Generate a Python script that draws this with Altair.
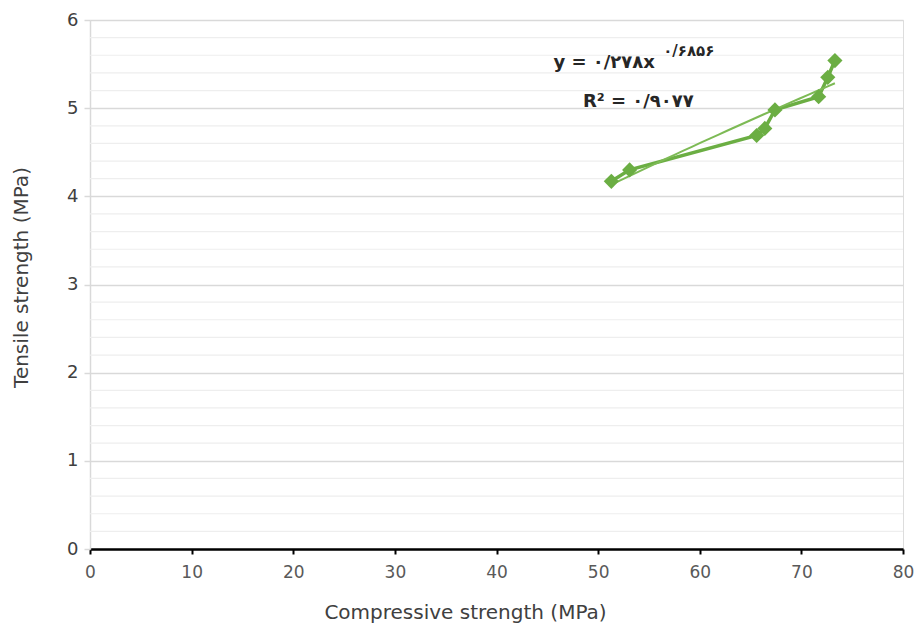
import altair as alt
import pandas as pd

# Data
comp_strength = [51.3, 53.1, 65.6, 66.4, 67.4, 71.7, 72.6, 73.3]
tens_strength = [4.17, 4.30, 4.69, 4.77, 4.98, 5.13, 5.35, 5.54]

x_ticks = [0, 10, 20, 30, 40, 50, 60, 70, 80]
y_ticks = [0, 1, 2, 3, 4, 5, 6]
minor_y = [0.2, 0.4, 0.6, 0.8, 1.2, 1.4, 1.6, 1.8, 2.2, 2.4, 2.6, 2.8,
           3.2, 3.4, 3.6, 3.8, 4.2, 4.4, 4.6, 4.8, 5.2, 5.4, 5.6, 5.8]

# Trendline annotation (Persian digits as in the original)
ann_text = ["y = ۰/۲۷۸x", "۰/۶۸۵۶", "R² = ۰/۹۰۷۷"]
ann_x = [45.6, 56.4, 48.5]
ann_y = [5.51, 5.65, 5.07]
ann_size = [18, 15, 18]

GREEN = "#6BAE43"
FONT = "DejaVu Sans"

df = pd.DataFrame({"x": comp_strength, "y": tens_strength, "i": range(len(comp_strength))})
minor_df = pd.DataFrame({"y": minor_y})
ann_df = pd.DataFrame({"t": ann_text, "x": ann_x, "y": ann_y, "s": ann_size})

xscale = alt.Scale(domain=[0, 80], nice=False, zero=True)
yscale = alt.Scale(domain=[0, 6], nice=False, zero=True)

xaxis = alt.Axis(values=x_ticks, grid=False, domainColor="black", domainWidth=2.5,
                 tickColor="black", tickWidth=2, tickSize=5, labelFlush=False,
                 labelFont=FONT, labelFontSize=17, labelColor="#595959", labelPadding=10,
                 title="Compressive strength (MPa)", titleFont=FONT, titleFontSize=20,
                 titleFontWeight="normal", titleColor="#404040",
                 titleX=375, titleY=63, titleBaseline="middle")
yaxis = alt.Axis(values=y_ticks, grid=True, gridColor="#d9d9d9", gridWidth=1.5,
                 domainColor="#d9d9d9", domainWidth=1.5, labelFlush=False,
                 tickColor="#d9d9d9", tickWidth=1.5, tickSize=6,
                 labelFont=FONT, labelFontSize=18, labelColor="#404040", labelPadding=6,
                 title="Tensile strength (MPa)", titleFont=FONT, titleFontSize=20,
                 titleFontWeight="normal", titleColor="#404040",
                 titleX=-69, titleY=257, titleBaseline="middle", titleAngle=-90)

X = alt.X("x:Q", scale=xscale, axis=xaxis)
Y = alt.Y("y:Q", scale=yscale, axis=yaxis)

minor = alt.Chart(minor_df).mark_rule(color="#eeeeee", strokeWidth=1.2).encode(y=Y)

line = alt.Chart(df).mark_line(color=GREEN, strokeWidth=3.5).encode(x=X, y=Y, order="i:Q")

trend = alt.Chart(df).transform_regression("x", "y", method="pow").mark_line(
    color="#7DBA55", strokeWidth=2).encode(x=X, y=Y)

points = alt.Chart(df).mark_point(shape="diamond", filled=True, size=230,
                                  color=GREEN, opacity=1).encode(x=X, y=Y)

ann = alt.Chart(ann_df).mark_text(align="left", baseline="middle", font=FONT,
                                   fontWeight="bold", color="#262626").encode(
    x=X, y=Y, text="t:N", size=alt.Size("s:Q", scale=None, legend=None))

chart = alt.layer(minor, line, trend, points, ann).properties(
    width=813, height=529,
    padding={"left": 90, "top": 20, "right": 14, "bottom": 75},
    autosize=alt.AutoSizeParams(type="none"),
).configure_view(stroke=None).configure(background="white")

chart.save("out.html", embed_options={"renderer": "svg", "actions": False})
